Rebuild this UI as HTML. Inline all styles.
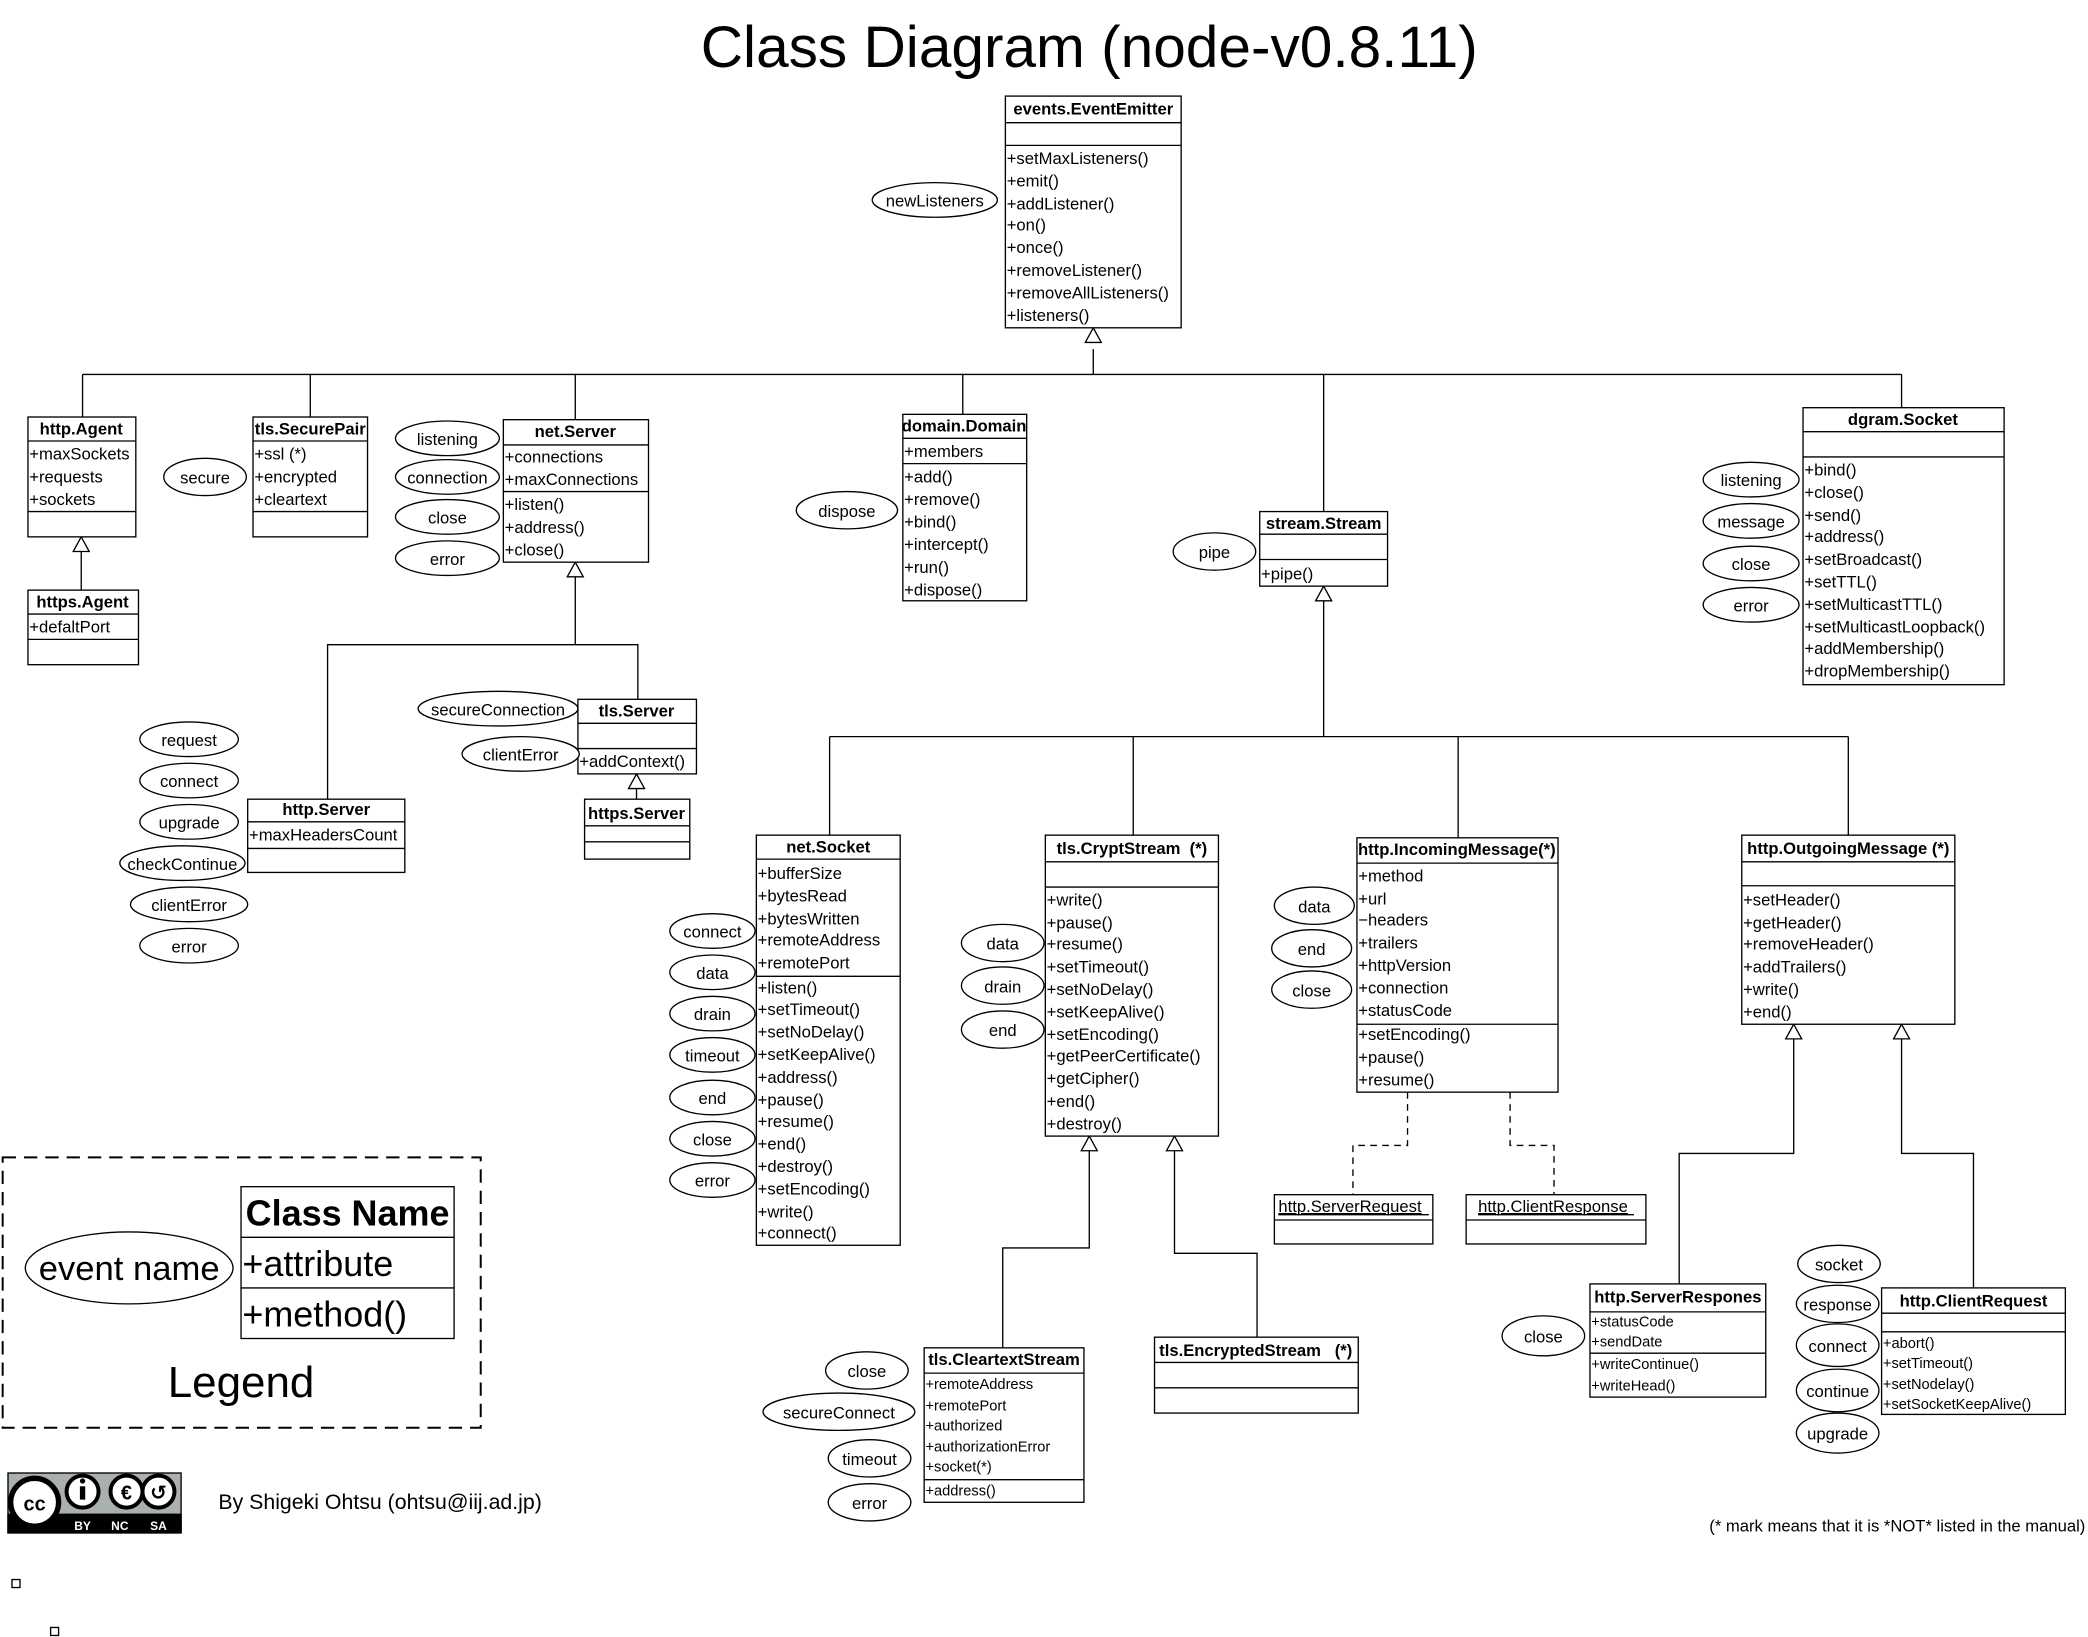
<!DOCTYPE html>
<html><head><meta charset="utf-8"><style>
html,body{margin:0;padding:0;background:#fff;}
svg{display:block;}
text{font-family:"Liberation Sans","DejaVu Sans",sans-serif;fill:#000;}
.t{font-size:12.5px;}
.h{font-size:12.5px;font-weight:bold;text-anchor:middle;}
.s{font-size:11px;}
.e{font-size:12.5px;text-anchor:middle;}
rect,ellipse{fill:#fff;stroke:#000;stroke-width:1;}
line,polyline{stroke:#000;stroke-width:1;fill:none;}
.tri{fill:#fff;stroke:#000;stroke-width:1;}
.d{stroke-dasharray:5,4;}
</style></head><body>
<svg width="2088" height="1637" viewBox="0 0 1568 1229" xmlns="http://www.w3.org/2000/svg">
<text x="818" y="50" style="font-size:44px;text-anchor:middle">Class Diagram (node-v0.8.11)</text>

<!-- connectors -->
<polyline points="821,262 821,281"/>
<line x1="62" y1="281" x2="1428" y2="281"/>
<line x1="62" y1="281" x2="62" y2="313"/>
<line x1="233" y1="281" x2="233" y2="313"/>
<line x1="432" y1="281" x2="432" y2="315"/>
<line x1="723" y1="281" x2="723" y2="311"/>
<line x1="994" y1="281" x2="994" y2="384"/>
<line x1="1428" y1="281" x2="1428" y2="306"/>
<polygon class="tri" points="821,246 815,257 827,257"/>

<line x1="61" y1="414" x2="61" y2="443"/>
<polygon class="tri" points="61,403 55,414 67,414"/>

<polyline points="432,433 432,484"/>
<polyline points="246,600 246,484 479,484 479,525"/>
<polygon class="tri" points="432,422 426,433 438,433"/>
<line x1="478" y1="592" x2="478" y2="600"/>
<polygon class="tri" points="478,581 472,592 484,592"/>

<line x1="994" y1="451" x2="994" y2="553"/>
<polygon class="tri" points="994,440 988,451 1000,451"/>
<line x1="623" y1="553" x2="1388" y2="553"/>
<line x1="623" y1="553" x2="623" y2="627"/>
<line x1="851" y1="553" x2="851" y2="627"/>
<line x1="1095" y1="553" x2="1095" y2="629"/>
<line x1="1388" y1="553" x2="1388" y2="627"/>

<polyline points="818,864 818,937 753,937 753,1012"/>
<polygon class="tri" points="818,853 812,864 824,864"/>
<polyline points="882,864 882,941 944,941 944,1004"/>
<polygon class="tri" points="882,853 876,864 888,864"/>

<polyline class="d" points="1057,820 1057,860 1016,860 1016,897"/>
<polyline class="d" points="1134,820 1134,860 1167,860 1167,897"/>

<polyline points="1347,780 1347,866 1261,866 1261,964"/>
<polygon class="tri" points="1347,769 1341,780 1353,780"/>
<polyline points="1428,780 1428,866 1482,866 1482,967"/>
<polygon class="tri" points="1428,769 1422,780 1434,780"/>

<!-- events.EventEmitter -->
<rect x="755" y="72" width="132" height="174"/>
<line x1="755" y1="92" x2="887" y2="92"/><line x1="755" y1="109" x2="887" y2="109"/>
<text class="h" x="821" y="86">events.EventEmitter</text>
<text class="t" x="756" y="123">+setMaxListeners()</text>
<text class="t" x="756" y="140">+emit()</text>
<text class="t" x="756" y="157">+addListener()</text>
<text class="t" x="756" y="173">+on()</text>
<text class="t" x="756" y="190">+once()</text>
<text class="t" x="756" y="207">+removeListener()</text>
<text class="t" x="756" y="224">+removeAllListeners()</text>
<text class="t" x="756" y="241">+listeners()</text>
<ellipse cx="702" cy="150" rx="47" ry="13"/><text class="e" x="702" y="155">newListeners</text>

<!-- http.Agent -->
<rect x="21" y="313" width="81" height="90"/>
<line x1="21" y1="331" x2="102" y2="331"/><line x1="21" y1="384" x2="102" y2="384"/>
<text class="h" x="61" y="326">http.Agent</text>
<text class="t" x="22" y="345">+maxSockets</text>
<text class="t" x="22" y="362">+requests</text>
<text class="t" x="22" y="379">+sockets</text>
<!-- https.Agent -->
<rect x="21" y="443" width="83" height="56"/>
<line x1="21" y1="461" x2="104" y2="461"/><line x1="21" y1="480" x2="104" y2="480"/>
<text class="h" x="62" y="456">https.Agent</text>
<text class="t" x="22" y="475">+defaltPort</text>

<!-- tls.SecurePair -->
<rect x="190" y="313" width="86" height="90"/>
<line x1="190" y1="331" x2="276" y2="331"/><line x1="190" y1="384" x2="276" y2="384"/>
<text class="h" x="233" y="326">tls.SecurePair</text>
<text class="t" x="191" y="345">+ssl (*)</text>
<text class="t" x="191" y="362">+encrypted</text>
<text class="t" x="191" y="379">+cleartext</text>
<ellipse cx="154" cy="358" rx="31" ry="14"/><text class="e" x="154" y="363">secure</text>

<!-- net.Server -->
<rect x="378" y="315" width="109" height="107"/>
<line x1="378" y1="334" x2="487" y2="334"/><line x1="378" y1="369" x2="487" y2="369"/>
<text class="h" x="432" y="328">net.Server</text>
<text class="t" x="379" y="347">+connections</text>
<text class="t" x="379" y="364">+maxConnections</text>
<text class="t" x="379" y="383">+listen()</text>
<text class="t" x="379" y="400">+address()</text>
<text class="t" x="379" y="417">+close()</text>
<ellipse cx="336" cy="329" rx="39" ry="13"/><text class="e" x="336" y="334">listening</text>
<ellipse cx="336" cy="358" rx="39" ry="13"/><text class="e" x="336" y="363">connection</text>
<ellipse cx="336" cy="388" rx="39" ry="13"/><text class="e" x="336" y="393">close</text>
<ellipse cx="336" cy="419" rx="39" ry="13"/><text class="e" x="336" y="424">error</text>

<!-- tls.Server -->
<rect x="434" y="525" width="89" height="56"/>
<line x1="434" y1="543" x2="523" y2="543"/><line x1="434" y1="562" x2="523" y2="562"/>
<text class="h" x="478" y="538">tls.Server</text>
<text class="t" x="435" y="576">+addContext()</text>
<ellipse cx="374" cy="532" rx="60" ry="13"/><text class="e" x="374" y="537">secureConnection</text>
<ellipse cx="391" cy="566" rx="44" ry="13"/><text class="e" x="391" y="571">clientError</text>

<!-- https.Server -->
<rect x="439" y="600" width="79" height="45"/>
<line x1="439" y1="620" x2="518" y2="620"/><line x1="439" y1="632" x2="518" y2="632"/>
<text class="h" x="478" y="615">https.Server</text>

<!-- http.Server -->
<rect x="186" y="600" width="118" height="55"/>
<line x1="186" y1="617" x2="304" y2="617"/><line x1="186" y1="637" x2="304" y2="637"/>
<text class="h" x="245" y="612">http.Server</text>
<text class="t" x="187" y="631">+maxHeadersCount</text>
<ellipse cx="142" cy="555" rx="37" ry="13"/><text class="e" x="142" y="560">request</text>
<ellipse cx="142" cy="586" rx="37" ry="13"/><text class="e" x="142" y="591">connect</text>
<ellipse cx="142" cy="617" rx="37" ry="13"/><text class="e" x="142" y="622">upgrade</text>
<ellipse cx="137" cy="648" rx="47" ry="13"/><text class="e" x="137" y="653">checkContinue</text>
<ellipse cx="142" cy="679" rx="44" ry="13"/><text class="e" x="142" y="684">clientError</text>
<ellipse cx="142" cy="710" rx="37" ry="13"/><text class="e" x="142" y="715">error</text>

<!-- domain.Domain -->
<rect x="678" y="311" width="93" height="140"/>
<line x1="678" y1="329" x2="771" y2="329"/><line x1="678" y1="348" x2="771" y2="348"/>
<text class="h" x="724" y="324">domain.Domain</text>
<text class="t" x="679" y="343">+members</text>
<text class="t" x="679" y="362">+add()</text>
<text class="t" x="679" y="379">+remove()</text>
<text class="t" x="679" y="396">+bind()</text>
<text class="t" x="679" y="413">+intercept()</text>
<text class="t" x="679" y="430">+run()</text>
<text class="t" x="679" y="447">+dispose()</text>
<ellipse cx="636" cy="383" rx="38" ry="14"/><text class="e" x="636" y="388">dispose</text>

<!-- stream.Stream -->
<rect x="946" y="384" width="96" height="56"/>
<line x1="946" y1="401" x2="1042" y2="401"/><line x1="946" y1="420" x2="1042" y2="420"/>
<text class="h" x="994" y="397">stream.Stream</text>
<text class="t" x="947" y="435">+pipe()</text>
<ellipse cx="912" cy="414" rx="31" ry="14"/><text class="e" x="912" y="419">pipe</text>

<!-- dgram.Socket -->
<rect x="1354" y="306" width="151" height="208"/>
<line x1="1354" y1="324" x2="1505" y2="324"/><line x1="1354" y1="343" x2="1505" y2="343"/>
<text class="h" x="1429" y="319">dgram.Socket</text>
<text class="t" x="1355" y="357">+bind()</text>
<text class="t" x="1355" y="374">+close()</text>
<text class="t" x="1355" y="391">+send()</text>
<text class="t" x="1355" y="407">+address()</text>
<text class="t" x="1355" y="424">+setBroadcast()</text>
<text class="t" x="1355" y="441">+setTTL()</text>
<text class="t" x="1355" y="458">+setMulticastTTL()</text>
<text class="t" x="1355" y="475">+setMulticastLoopback()</text>
<text class="t" x="1355" y="491">+addMembership()</text>
<text class="t" x="1355" y="508">+dropMembership()</text>
<ellipse cx="1315" cy="360" rx="36" ry="13"/><text class="e" x="1315" y="365">listening</text>
<ellipse cx="1315" cy="391" rx="36" ry="13"/><text class="e" x="1315" y="396">message</text>
<ellipse cx="1315" cy="423" rx="36" ry="13"/><text class="e" x="1315" y="428">close</text>
<ellipse cx="1315" cy="454" rx="36" ry="13"/><text class="e" x="1315" y="459">error</text>

<!-- net.Socket -->
<rect x="568" y="627" width="108" height="308"/>
<line x1="568" y1="645" x2="676" y2="645"/><line x1="568" y1="733" x2="676" y2="733"/>
<text class="h" x="622" y="640">net.Socket</text>
<text class="t" x="569" y="660">+bufferSize</text>
<text class="t" x="569" y="677">+bytesRead</text>
<text class="t" x="569" y="694">+bytesWritten</text>
<text class="t" x="569" y="710">+remoteAddress</text>
<text class="t" x="569" y="727">+remotePort</text>
<text class="t" x="569" y="746">+listen()</text>
<text class="t" x="569" y="762">+setTimeout()</text>
<text class="t" x="569" y="779">+setNoDelay()</text>
<text class="t" x="569" y="796">+setKeepAlive()</text>
<text class="t" x="569" y="813">+address()</text>
<text class="t" x="569" y="830">+pause()</text>
<text class="t" x="569" y="846">+resume()</text>
<text class="t" x="569" y="863">+end()</text>
<text class="t" x="569" y="880">+destroy()</text>
<text class="t" x="569" y="897">+setEncoding()</text>
<text class="t" x="569" y="914">+write()</text>
<text class="t" x="569" y="930">+connect()</text>
<ellipse cx="535" cy="699" rx="32" ry="13"/><text class="e" x="535" y="704">connect</text>
<ellipse cx="535" cy="730" rx="32" ry="13"/><text class="e" x="535" y="735">data</text>
<ellipse cx="535" cy="761" rx="32" ry="13"/><text class="e" x="535" y="766">drain</text>
<ellipse cx="535" cy="792" rx="32" ry="13"/><text class="e" x="535" y="797">timeout</text>
<ellipse cx="535" cy="824" rx="32" ry="13"/><text class="e" x="535" y="829">end</text>
<ellipse cx="535" cy="855" rx="32" ry="13"/><text class="e" x="535" y="860">close</text>
<ellipse cx="535" cy="886" rx="32" ry="13"/><text class="e" x="535" y="891">error</text>

<!-- tls.CryptStream -->
<rect x="785" y="627" width="130" height="226"/>
<line x1="785" y1="647" x2="915" y2="647"/><line x1="785" y1="666" x2="915" y2="666"/>
<text class="h" x="850" y="641">tls.CryptStream&#160;&#160;(*)</text>
<text class="t" x="786" y="680">+write()</text>
<text class="t" x="786" y="697">+pause()</text>
<text class="t" x="786" y="713">+resume()</text>
<text class="t" x="786" y="730">+setTimeout()</text>
<text class="t" x="786" y="747">+setNoDelay()</text>
<text class="t" x="786" y="764">+setKeepAlive()</text>
<text class="t" x="786" y="781">+setEncoding()</text>
<text class="t" x="786" y="797">+getPeerCertificate()</text>
<text class="t" x="786" y="814">+getCipher()</text>
<text class="t" x="786" y="831">+end()</text>
<text class="t" x="786" y="848">+destroy()</text>
<ellipse cx="753" cy="708" rx="31" ry="14"/><text class="e" x="753" y="713">data</text>
<ellipse cx="753" cy="740" rx="31" ry="14"/><text class="e" x="753" y="745">drain</text>
<ellipse cx="753" cy="773" rx="31" ry="14"/><text class="e" x="753" y="778">end</text>

<!-- tls.CleartextStream -->
<rect x="694" y="1012" width="120" height="116"/>
<line x1="694" y1="1031" x2="814" y2="1031"/><line x1="694" y1="1111" x2="814" y2="1111"/>
<text class="h" x="754" y="1025">tls.CleartextStream</text>
<text class="s" x="695" y="1043">+remoteAddress</text>
<text class="s" x="695" y="1059">+remotePort</text>
<text class="s" x="695" y="1074">+authorized</text>
<text class="s" x="695" y="1090">+authorizationError</text>
<text class="s" x="695" y="1105">+socket(*)</text>
<text class="s" x="695" y="1123">+address()</text>
<ellipse cx="651" cy="1029" rx="31" ry="14"/><text class="e" x="651" y="1034">close</text>
<ellipse cx="630" cy="1060" rx="57" ry="14"/><text class="e" x="630" y="1065">secureConnect</text>
<ellipse cx="653" cy="1095" rx="31" ry="14"/><text class="e" x="653" y="1100">timeout</text>
<ellipse cx="653" cy="1128" rx="31" ry="14"/><text class="e" x="653" y="1133">error</text>

<!-- tls.EncryptedStream -->
<rect x="867" y="1004" width="153" height="57"/>
<line x1="867" y1="1023" x2="1020" y2="1023"/><line x1="867" y1="1042" x2="1020" y2="1042"/>
<text class="h" x="943" y="1018">tls.EncryptedStream&#160;&#160;&#160;(*)</text>

<!-- http.IncomingMessage -->
<rect x="1019" y="629" width="151" height="191"/>
<line x1="1019" y1="648" x2="1170" y2="648"/><line x1="1019" y1="769" x2="1170" y2="769"/>
<text class="h" x="1094" y="642">http.IncomingMessage(*)</text>
<text class="t" x="1020" y="662">+method</text>
<text class="t" x="1020" y="679">+url</text>
<text class="t" x="1020" y="695">−headers</text>
<text class="t" x="1020" y="712">+trailers</text>
<text class="t" x="1020" y="729">+httpVersion</text>
<text class="t" x="1020" y="746">+connection</text>
<text class="t" x="1020" y="763">+statusCode</text>
<text class="t" x="1020" y="781">+setEncoding()</text>
<text class="t" x="1020" y="798">+pause()</text>
<text class="t" x="1020" y="815">+resume()</text>
<ellipse cx="987" cy="680" rx="30" ry="14"/><text class="e" x="987" y="685">data</text>
<ellipse cx="985" cy="712" rx="30" ry="14"/><text class="e" x="985" y="717">end</text>
<ellipse cx="985" cy="743" rx="30" ry="14"/><text class="e" x="985" y="748">close</text>

<rect x="957" y="897" width="119" height="37"/>
<line x1="957" y1="916" x2="1076" y2="916"/>
<text class="t" x="960" y="910" text-decoration="underline">http.ServerRequest</text>
<line x1="960" y1="912" x2="1073" y2="912"/>
<rect x="1101" y="897" width="135" height="37"/>
<line x1="1101" y1="916" x2="1236" y2="916"/>
<text class="t" x="1110" y="910" text-decoration="underline">http.ClientResponse</text>
<line x1="1110" y1="912" x2="1227" y2="912"/>

<!-- http.OutgoingMessage -->
<rect x="1308" y="627" width="160" height="142"/>
<line x1="1308" y1="647" x2="1468" y2="647"/><line x1="1308" y1="665" x2="1468" y2="665"/>
<text class="h" x="1388" y="641">http.OutgoingMessage (*)</text>
<text class="t" x="1309" y="680">+setHeader()</text>
<text class="t" x="1309" y="697">+getHeader()</text>
<text class="t" x="1309" y="713">+removeHeader()</text>
<text class="t" x="1309" y="730">+addTrailers()</text>
<text class="t" x="1309" y="747">+write()</text>
<text class="t" x="1309" y="764">+end()</text>

<!-- http.ServerRespones -->
<rect x="1194" y="964" width="132" height="85"/>
<line x1="1194" y1="985" x2="1326" y2="985"/><line x1="1194" y1="1016" x2="1326" y2="1016"/>
<text class="h" x="1260" y="978">http.ServerRespones</text>
<text class="s" x="1195" y="996">+statusCode</text>
<text class="s" x="1195" y="1011">+sendDate</text>
<text class="s" x="1195" y="1028">+writeContinue()</text>
<text class="s" x="1195" y="1044">+writeHead()</text>
<ellipse cx="1159" cy="1003" rx="31" ry="15"/><text class="e" x="1159" y="1008">close</text>

<!-- http.ClientRequest -->
<rect x="1413" y="967" width="138" height="95"/>
<line x1="1413" y1="986" x2="1551" y2="986"/><line x1="1413" y1="1000" x2="1551" y2="1000"/>
<text class="h" x="1482" y="981">http.ClientRequest</text>
<text class="s" x="1414" y="1012">+abort()</text>
<text class="s" x="1414" y="1027">+setTimeout()</text>
<text class="s" x="1414" y="1043">+setNodelay()</text>
<text class="s" x="1414" y="1058">+setSocketKeepAlive()</text>
<ellipse cx="1381" cy="949" rx="31" ry="14"/><text class="e" x="1381" y="954">socket</text>
<ellipse cx="1380" cy="979" rx="31" ry="14"/><text class="e" x="1380" y="984">response</text>
<ellipse cx="1380" cy="1010" rx="31" ry="16"/><text class="e" x="1380" y="1015">connect</text>
<ellipse cx="1380" cy="1044" rx="31" ry="16"/><text class="e" x="1380" y="1049">continue</text>
<ellipse cx="1380" cy="1076" rx="31" ry="15"/><text class="e" x="1380" y="1081">upgrade</text>

<!-- Legend -->
<rect x="2" y="869" width="359" height="203" style="stroke-dasharray:10,6;stroke-width:1.5"/>
<rect x="181" y="891" width="160" height="114"/>
<line x1="181" y1="929" x2="341" y2="929"/><line x1="181" y1="967" x2="341" y2="967"/>
<text x="261" y="920" style="font-size:27px;font-weight:bold;text-anchor:middle">Class Name</text>
<text x="182" y="958" style="font-size:27px">+attribute</text>
<text x="182" y="996" style="font-size:27px">+method()</text>
<ellipse cx="97" cy="952" rx="78" ry="27"/>
<text x="97" y="961" style="font-size:26px;text-anchor:middle">event name</text>
<text x="181" y="1049" style="font-size:33px;text-anchor:middle">Legend</text>

<!-- CC badge -->
<rect x="6" y="1106" width="130" height="45" style="fill:#aab0ab;stroke:#000"/>
<rect x="6" y="1137" width="130" height="14" style="fill:#000"/>
<circle cx="26" cy="1128" r="18" style="fill:#fff;stroke:#000;stroke-width:4"/>
<text x="26" y="1134" style="font-size:15px;font-weight:bold;text-anchor:middle">cc</text>
<circle cx="62" cy="1120" r="12" style="fill:#fff;stroke:#000;stroke-width:3"/>
<rect x="60" y="1116" width="4" height="10" style="fill:#000;stroke:none"/>
<circle cx="62" cy="1112" r="2" style="fill:#000;stroke:none"/>
<circle cx="95" cy="1120" r="12" style="fill:#fff;stroke:#000;stroke-width:3"/>
<text x="95" y="1126" style="font-size:15px;font-weight:bold;text-anchor:middle">€</text>
<circle cx="119" cy="1120" r="12" style="fill:#fff;stroke:#000;stroke-width:3"/>
<text x="119" y="1126" style="font-size:15px;font-weight:bold;text-anchor:middle">↺</text>
<text x="62" y="1149" style="font-size:9px;font-weight:bold;fill:#fff;text-anchor:middle">BY</text>
<text x="90" y="1149" style="font-size:9px;font-weight:bold;fill:#fff;text-anchor:middle">NC</text>
<text x="119" y="1149" style="font-size:9px;font-weight:bold;fill:#fff;text-anchor:middle">SA</text>

<text x="164" y="1133" style="font-size:16px">By Shigeki Ohtsu (ohtsu@iij.ad.jp)</text>
<text x="1566" y="1150" style="font-size:12.5px;text-anchor:end">(* mark means that it is *NOT* listed in the manual)</text>

<rect x="9" y="1186" width="6" height="6"/>
<rect x="38" y="1222" width="6" height="6"/>
</svg>
</body></html>
